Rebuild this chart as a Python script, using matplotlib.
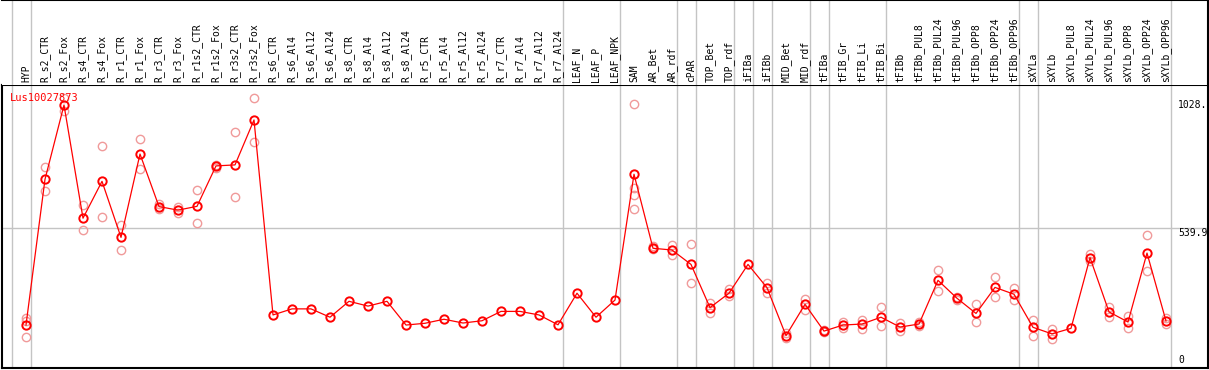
import matplotlib
matplotlib.use('Agg')
import matplotlib.pyplot as plt
import matplotlib.transforms as mtransforms
import numpy as np

samples = ["HYP", "R_s2_CTR", "R_s2_Fox", "R_s4_CTR", "R_s4_Fox", "R_r1_CTR", "R_r1_Fox",
           "R_r3_CTR", "R_r3_Fox", "R_r1s2_CTR", "R_r1s2_Fox", "R_r3s2_CTR", "R_r3s2_Fox",
           "R_s6_CTR", "R_s6_Al4", "R_s6_Al12", "R_s6_Al24", "R_s8_CTR", "R_s8_Al4", "R_s8_Al12",
           "R_s8_Al24", "R_r5_CTR", "R_r5_Al4", "R_r5_Al12", "R_r5_Al24", "R_r7_CTR", "R_r7_Al4",
           "R_r7_Al12", "R_r7_Al24", "LEAF_N", "LEAF_P", "LEAF_NPK", "SAM", "AR_Bet", "AR_rdf",
           "cPAR", "TOP_Bet", "TOP_rdf", "iFIBa", "iFIBb", "MID_Bet", "MID_rdf", "tFIBa",
           "tFIB_Gr", "tFIB_Li", "tFIB_Bi", "tFIBb", "tFIBb_PUL8", "tFIBb_PUL24", "tFIBb_PUL96",
           "tFIBb_OPP8", "tFIBb_OPP24", "tFIBb_OPP96", "sXYLa", "sXYLb", "sXYLb_PUL8",
           "sXYLb_PUL24", "sXYLb_PUL96", "sXYLb_OPP8", "sXYLb_OPP24", "sXYLb_OPP96"]

means = [157, 734, 1028, 580, 726, 504, 834, 626, 612, 627, 787, 791, 969,
         197, 221, 221, 188, 251, 232, 251, 157, 164, 180, 165, 174, 211, 211, 197, 158,
         283, 188, 256, 754, 461, 454, 397, 226, 283, 397, 305, 115, 239, 133, 157, 161,
         188, 149, 161, 334, 263, 203, 306, 279, 148, 122, 144, 424, 209, 169, 442, 173]

replicates = [[185, 173, 110], [783, 686], [1055, 1004], [632, 532], [866, 584], [553, 454],
              [892, 775], [635, 616], [626, 599], [690, 561], [791, 780], [921, 664], [1055, 880],
              [], [], [], [], [], [], [], [], [], [], [], [], [], [], [], [], [], [], [],
              [1032, 700, 672, 615], [470, 457], [474, 434], [477, 322], [243, 203], [299, 273],
              [], [325, 285], [124, 105], [260, 215], [137, 129], [170, 144], [176, 143],
              [227, 152], [164, 133], [154, 169], [374, 291], [269, 256], [240, 168], [347, 268],
              [304, 255], [176, 112], [140, 101], [], [437, 411], [227, 190], [194, 146],
              [513, 371], [184, 161]]

# last sample index of each group (separator drawn just after it)
group_ends = [-1, 0, 28, 31, 34, 35, 37, 38, 39, 41, 42, 45, 52, 53, 60]
gene = "Lus10027873"
mid_label = 539.9

W, H = 1209, 370
fig = plt.figure(figsize=(W / 100, H / 100), dpi=100)

# pixel geometry of the plot panel
px_left, px_right, px_top, px_bot = 1.5, 1207.7, 85, 368
ax = fig.add_axes([px_left / W, (H - px_bot) / H, (px_right - px_left) / W, (px_bot - px_top) / H])
lab = fig.add_axes([px_left / W, (H - px_top) / H, (px_right - px_left) / W, px_top / H])

xmin, xmax = (px_left - 26) / 19.0, (px_right - 26) / 19.0
ymax = (364.7 - px_top) * 3.959
ymin = (364.7 - px_bot) * 3.959
x = np.arange(len(samples))

for a in (ax, lab):
    a.set_xlim(xmin, xmax)
    a.set_xticks([])
    a.set_yticks([])
ax.set_ylim(ymin, ymax)
lab.set_ylim(0, 1)

for s in ax.spines.values():
    s.set_linewidth(1.5)
    s.set_color('black')
lab.spines['left'].set_visible(False)
lab.spines['bottom'].set_visible(False)
lab.spines['top'].set_linewidth(1.5)
lab.spines['right'].set_linewidth(1.5)

grid_c = '#c4c4c4'
for g in group_ends:
    ax.axvline(g + 0.25, color=grid_c, lw=1.0, zorder=0)
    lab.axvline(g + 0.25, color=grid_c, lw=1.0, zorder=0)
ax.axhline(mid_label, color=grid_c, lw=1.0, zorder=0)

mono = 'DejaVu Sans Mono'
for i, name in enumerate(samples):
    lab.text(i, 3 / 85, name, rotation=90, ha='center', va='bottom',
             fontsize=7, family=mono, color='black')

# replicate points
rx = [i for i, r in enumerate(replicates) for _ in r]
ry = [v for r in replicates for v in r]
ax.plot(rx, ry, ls='none', marker='o', ms=6, mfc='none', mec='#f09a9a', mew=1.0, zorder=2)

# mean profile
ax.plot(x, means, color='red', lw=0.9, zorder=3)
ax.plot(x, means, ls='none', marker='o', ms=6, mfc='none', mec='red', mew=1.4, zorder=4)

ax.text(0.007, 0.97, gene, transform=ax.transAxes, ha='left', va='top',
        fontsize=7.5, family=mono, color='red')

tx = (1178 - 26) / 19.0
ax.text(tx, max(means), "%g." % max(means), ha='left', va='center', fontsize=7, family=mono)
ax.text(tx, mid_label, "%.1f" % mid_label, ha='left', va='top', fontsize=7, family=mono)
ax.text(tx, 0, "0", ha='left', va='bottom', fontsize=7, family=mono)

fig.savefig("out.png", dpi=100)
